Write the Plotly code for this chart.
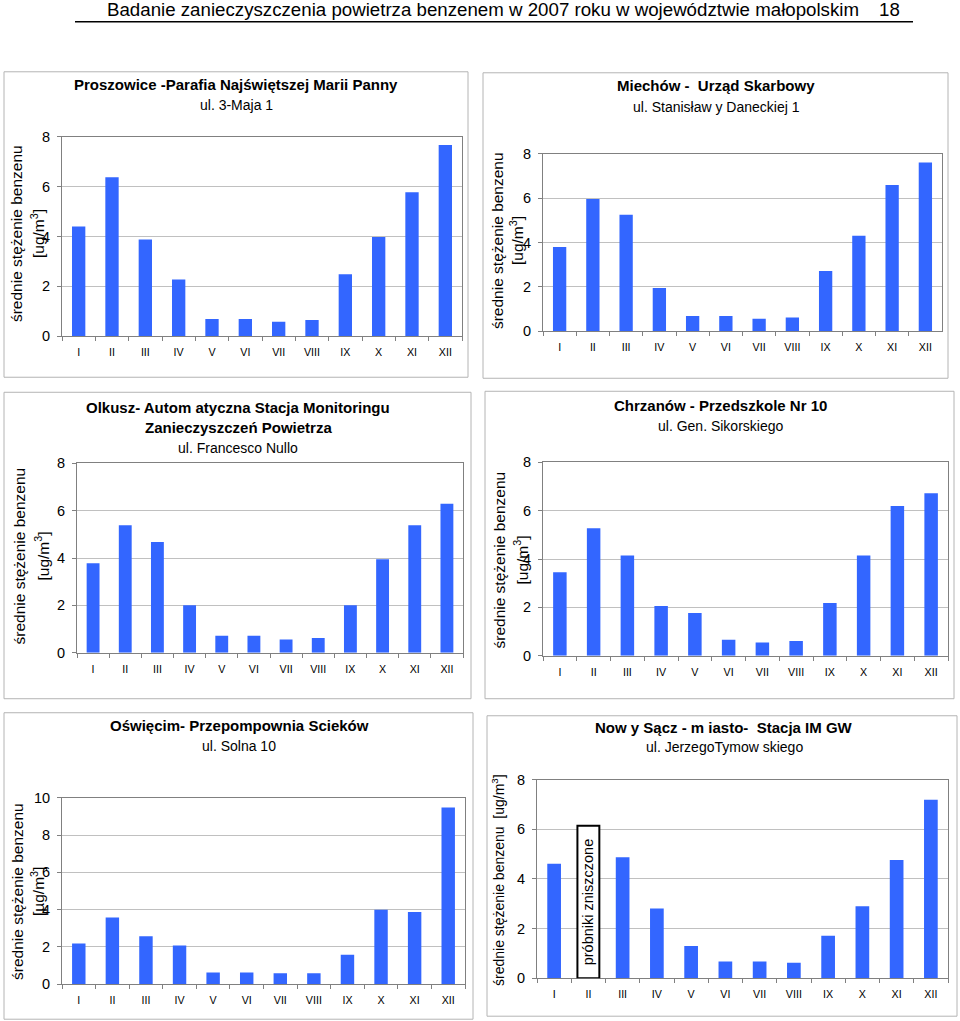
import plotly.graph_objects as go

# ---------------- data ----------------
months = ["I", "II", "III", "IV", "V", "VI", "VII", "VIII", "IX", "X", "XI", "XII"]

proszowice = [4.40, 6.38, 3.88, 2.28, 0.69, 0.69, 0.58, 0.65, 2.49, 3.98, 5.78, 7.67]
miechow = [3.80, 5.96, 5.26, 1.95, 0.68, 0.68, 0.56, 0.62, 2.72, 4.31, 6.60, 7.61]
olkusz = [3.78, 5.39, 4.68, 2.00, 0.71, 0.71, 0.56, 0.62, 2.00, 3.95, 5.39, 6.29]
chrzanow = [3.45, 5.27, 4.15, 2.06, 1.77, 0.66, 0.55, 0.61, 2.18, 4.15, 6.19, 6.72]
oswiecim = [2.18, 3.58, 2.57, 2.07, 0.63, 0.63, 0.58, 0.58, 1.58, 3.99, 3.88, 9.48]
nowy_sacz = [4.62, None, 4.88, 2.81, 1.30, 0.67, 0.67, 0.62, 1.71, 2.90, 4.77, 7.20]

series = [proszowice, miechow, olkusz, chrzanow, oswiecim, nowy_sacz]

title_lines = [
    ["<b>Proszowice -Parafia Najświętszej Marii Panny</b>", "ul. 3-Maja 1"],
    ["<b>Miechów -  Urząd Skarbowy</b>", "ul. Stanisław y Daneckiej 1"],
    ["<b>Olkusz- Autom atyczna Stacja Monitoringu</b>", "<b>Zanieczyszczeń Powietrza</b>", "ul. Francesco Nullo"],
    ["<b>Chrzanów - Przedszkole Nr 10</b>", "ul. Gen. Sikorskiego"],
    ["<b>Oświęcim- Przepompownia Scieków</b>", "ul. Solna 10"],
    ["<b>Now y Sącz - m iasto-  Stacja IM GW</b>", "ul. JerzegoTymow skiego"],
]
y_title_main = "średnie stężenie benzenu"
y_title_units = ["[ug/m<sup>3</sup>]", "[ug/m<sup>3</sup>]", "[ug/m<sup>3</sup>]",
                 "[ug/m<sup>3</sup>]", "[µg/m<sup>3</sup>]", None]
y_title_single = "średnie stężenie benzenu  [ug/m<sup>3</sup>]"
y_max = [8, 8, 8, 8, 10, 8]
y_tick_vals = [[0, 2, 4, 6, 8]] * 4 + [[0, 2, 4, 6, 8, 10]] + [[0, 2, 4, 6, 8]]
header_text = "Badanie zanieczyszczenia powietrza benzenem w 2007 roku w województwie małopolskim"
page_number = "18"
note_text = "próbniki zniszczone"
note_month = "II"
note_top = 6.15

# ---------------- layout geometry (pixels of the 960x1021 page) ----------------
W, H = 960, 1030
OFF_Y = 8.3      # vertical offset observed in the rendered page
SCALE_Y = 0.983  # vertical scale observed in the rendered page
FONT = "Liberation Sans, Arial, sans-serif"
BAR = "#3366FF"


def px(x):
    return x / W


def py(y):
    return 1 - ((y - OFF_Y) / SCALE_Y) / H


# plot areas: left, right, top, bottom
plots = [
    (62, 462, 137, 336),
    (543, 942, 154, 331),
    (77, 463, 463, 652),
    (543, 948, 462, 655),
    (62, 465, 797, 983),
    (537, 948, 779, 977),
]
boxes = [
    (4, 72, 468, 377),
    (483, 73, 948, 378),
    (4, 392, 471, 698),
    (485, 391, 954, 698),
    (4, 712, 473, 1018),
    (487, 715, 957, 1015),
]
title_x = [236, 716, 238, 720, 239, 724]
title_y = [[85, 105], [86, 107], [407, 427, 448], [405, 426], [725, 745], [727, 746]]
ytitle_pos = [  # (x main, x units, y center)
    (16, 38, 234),
    (497, 517, 241),
    (20, 42, 556),
    (500, 521, 560),
    (17, 38, 891),
    (498, None, 879),
]

fig = go.Figure()
annotations = []
shapes = []

for i, vals in enumerate(series):
    n = "" if i == 0 else str(i + 1)
    l, r, t, b = plots[i]
    fig.add_trace(go.Bar(
        x=months, y=vals, marker=dict(color=BAR, line=dict(width=0)),
        xaxis="x" + n, yaxis="y" + n, showlegend=False, hoverinfo="x+y",
    ))
    fig.update_layout(**{
        "xaxis" + n: dict(
            domain=[px(l), px(r)], anchor="y" + n, type="category",
            categoryorder="array", categoryarray=months, range=[-0.5, 11.5],
            showgrid=False, showline=True, linecolor="#808080", linewidth=1, mirror=True,
            ticks="outside", tickson="boundaries", ticklen=4, tickcolor="#808080",
            tickfont=dict(family=FONT, size=10.7, color="#000000"),
            ticklabelstandoff=6, zeroline=False, fixedrange=True,
        ),
        "yaxis" + n: dict(
            domain=[py(b), py(t)], anchor="x" + n, range=[0, y_max[i]],
            tickvals=y_tick_vals[i], showgrid=True, gridcolor="#c0c0c0", gridwidth=1,
            showline=True, linecolor="#808080", linewidth=1, mirror=True,
            ticks="outside", ticklen=4, tickcolor="#808080",
            tickfont=dict(family=FONT, size=14.5, color="#000000"),
            ticklabelstandoff=4, zeroline=False, fixedrange=True,
        ),
    })
    # panel frame
    bx0, by0, bx1, by1 = boxes[i]
    shapes.append(dict(type="rect", xref="paper", yref="paper",
                       x0=px(bx0), x1=px(bx1), y0=py(by1), y1=py(by0),
                       line=dict(color="#b4b4b4", width=1), layer="below"))
    # titles
    for txt, yy in zip(title_lines[i], title_y[i]):
        bold = txt.startswith("<b>")
        annotations.append(dict(text=txt, x=px(title_x[i]), y=py(yy), xref="paper", yref="paper",
                                xanchor="center", yanchor="middle", showarrow=False,
                                font=dict(family=FONT, size=15 if bold else 14, color="#000000")))
    # y titles
    xm, xu, yc = ytitle_pos[i]
    if y_title_units[i] is not None:
        annotations.append(dict(text=y_title_main, x=px(xm), y=py(yc), xref="paper", yref="paper",
                                xanchor="center", yanchor="middle", textangle=-90, showarrow=False,
                                font=dict(family=FONT, size=15.5, color="#000000")))
        annotations.append(dict(text=y_title_units[i], x=px(xu), y=py(yc), xref="paper", yref="paper",
                                xanchor="center", yanchor="middle", textangle=-90, showarrow=False,
                                font=dict(family=FONT, size=15.5, color="#000000")))
    else:
        annotations.append(dict(text=y_title_single, x=px(xm), y=py(yc), xref="paper", yref="paper",
                                xanchor="center", yanchor="middle", textangle=-90, showarrow=False,
                                font=dict(family=FONT, size=14, color="#000000")))

# note box for missing month in the last panel
ni = months.index(note_month)
shapes.append(dict(type="rect", xref="x6", yref="y6", x0=ni - 0.32, x1=ni + 0.32,
                   y0=0, y1=note_top, line=dict(color="#000000", width=2),
                   fillcolor="#ffffff", layer="above"))
annotations.append(dict(text=note_text, x=months[ni], y=note_top / 2, xref="x6", yref="y6",
                        xanchor="center", yanchor="middle", textangle=-90, showarrow=False,
                        font=dict(family=FONT, size=14.5, color="#000000")))

# page header
annotations.append(dict(text=header_text, x=px(105), y=py(10), xref="paper", yref="paper",
                        xanchor="left", yanchor="middle", showarrow=False,
                        font=dict(family=FONT, size=18.7, color="#000000")))
annotations.append(dict(text=page_number, x=px(877), y=py(10), xref="paper", yref="paper",
                        xanchor="left", yanchor="middle", showarrow=False,
                        font=dict(family=FONT, size=18.7, color="#000000")))
shapes.append(dict(type="line", xref="paper", yref="paper", x0=px(75), x1=px(913),
                   y0=py(22), y1=py(22), line=dict(color="#000000", width=1.5)))

fig.update_layout(
    width=W, height=H, autosize=False,
    margin=dict(l=0, r=0, t=0, b=0),
    paper_bgcolor="#ffffff", plot_bgcolor="#ffffff",
    bargap=0.6, showlegend=False,
    annotations=annotations, shapes=shapes,
    font=dict(family=FONT, color="#000000"),
)

fig.write_html("out.html", config={"displayModeBar": False},
               post_script="document.body.style.margin='0';")
